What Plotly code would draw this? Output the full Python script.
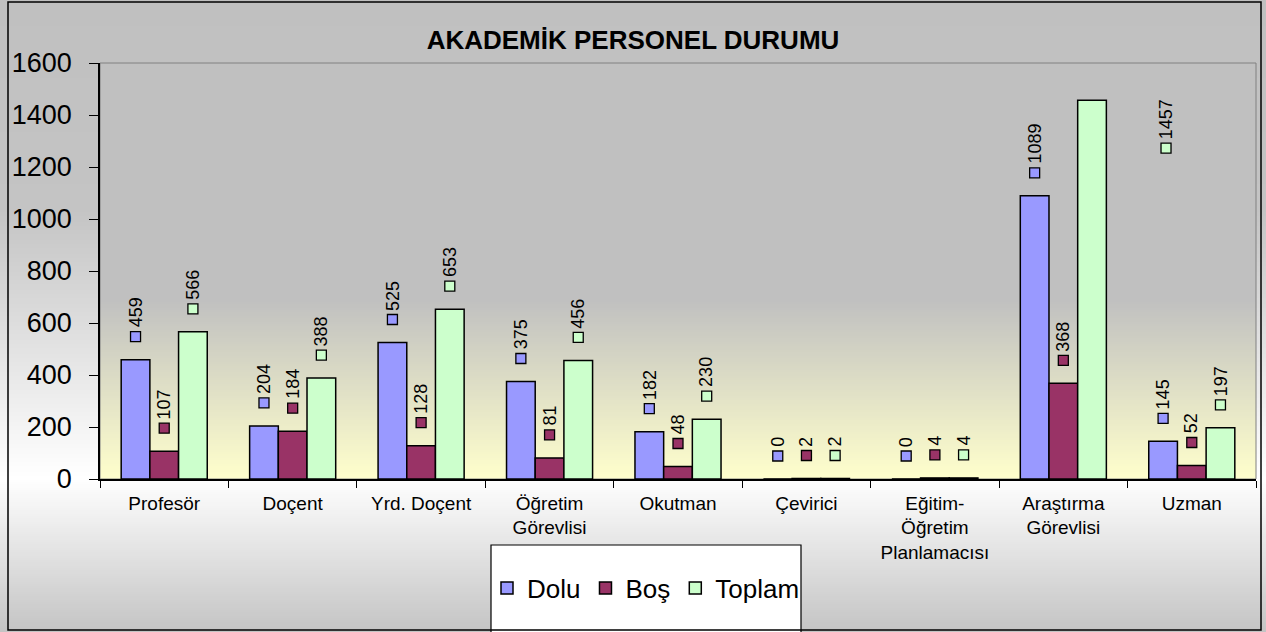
import plotly.graph_objects as go

categories = ["Profesör", "Doçent", "Yrd. Doçent", "Öğretim<br>Görevlisi", "Okutman",
              "Çevirici", "Eğitim-<br>Öğretim<br>Planlamacısı", "Araştırma<br>Görevlisi", "Uzman"]
dolu = [459, 204, 525, 375, 182, 0, 0, 1089, 145]
bos = [107, 184, 128, 81, 48, 2, 4, 368, 52]
toplam = [566, 388, 653, 456, 230, 2, 4, 1457, 197]
series_names = ["Dolu", "Boş", "Toplam"]
series_colors = ["#9999FF", "#993366", "#CCFFCC"]

W, H = 1266, 632
L, R, T, B = 100, 1256, 63, 479
FONT = "Liberation Sans, Arial, sans-serif"
BARGAP = 0.33


def px_x(p):
    return (p - L) / (R - L)


def px_y(p):
    return (B - p) / (B - T)


def gradient(x0, x1, stops, step=2):
    # stops: list of (pixel_y, (r, g, b)); drawn as thin horizontal strips
    out = []
    for (ya, ca), (yb, cb) in zip(stops, stops[1:]):
        if ca == cb:
            out.append(dict(type="rect", xref="paper", yref="paper", layer="below",
                            x0=x0, x1=x1, y0=px_y(ya), y1=px_y(yb),
                            fillcolor="rgb(%d,%d,%d)" % ca, line_width=0))
            continue
        y = ya
        while y < yb:
            y2 = min(y + step, yb)
            t = (y + y2) / 2.0
            f = (t - ya) / (yb - ya)
            c = tuple(round(a + (b - a) * f) for a, b in zip(ca, cb))
            out.append(dict(type="rect", xref="paper", yref="paper", layer="below",
                            x0=x0, x1=x1, y0=px_y(y), y1=px_y(y2 + 0.5),
                            fillcolor="rgb(%d,%d,%d)" % c, line_width=0))
            y = y2
    return out


fig = go.Figure()
values = [dolu, bos, toplam]
for name, col, vals in zip(series_names, series_colors, values):
    fig.add_trace(go.Bar(x=categories, y=vals, name=name,
                         marker=dict(color=col, line=dict(color="black", width=1.5))))

shapes = []
gray = (192, 192, 192)
shapes += gradient(px_x(0), px_x(W), [(0, gray), (210, (196, 196, 196)), (478, (255, 255, 255)),
                                      (632, (196, 196, 196))])
shapes += gradient(0, 1, [(T, gray), (300, gray), (B, (255, 255, 204))])
# plot area frame (top/right gray)
shapes.append(dict(type="rect", xref="paper", yref="paper", layer="below", x0=0, x1=1, y0=0, y1=1,
                   line=dict(color="#808080", width=1), fillcolor="rgba(0,0,0,0)"))
# legend box
shapes.append(dict(type="rect", xref="paper", yref="paper", layer="below",
                   x0=px_x(491), x1=px_x(801), y0=px_y(640), y1=px_y(545),
                   fillcolor="white", line=dict(color="black", width=1.2)))
# outer chart border
shapes.append(dict(type="rect", xref="paper", yref="paper", layer="above",
                   x0=px_x(8), x1=px_x(1261), y0=px_y(630), y1=px_y(2),
                   fillcolor="rgba(0,0,0,0)", line=dict(color="black", width=1.5)))

# data labels: small coloured square plus rotated value
w = (1 - BARGAP) / 3
offsets = [-w, 0, w]
nudges = {(7, 2): (74, -48)}
annotations = []
for k, vals in enumerate(values):
    for i, v in enumerate(vals):
        dx, dy = nudges.get((i, k), (0, 23))
        xa = i + offsets[k]
        shapes.append(dict(type="rect", xref="x", yref="y", layer="above",
                           xsizemode="pixel", ysizemode="pixel", xanchor=xa, yanchor=v,
                           x0=dx - 5, x1=dx + 5, y0=dy - 5, y1=dy + 5,
                           fillcolor=series_colors[k], line=dict(color="black", width=1.3)))
        annotations.append(dict(x=xa, y=v, xref="x", yref="y", text=str(v), textangle=-90,
                                showarrow=False, xanchor="center", yanchor="bottom",
                                xshift=dx, yshift=dy + 7, font=dict(size=18, color="black")))

fig.update_layout(
    width=W, height=H,
    margin=dict(l=L, r=W - R, t=T, b=H - B),
    paper_bgcolor="white", plot_bgcolor="rgba(0,0,0,0)",
    font=dict(family=FONT, color="black"),
    title=dict(text="<b>AKADEMİK PERSONEL DURUMU</b>", x=0.5, xref="container",
               y=1 - 40 / H, yanchor="middle", font=dict(size=26, color="black")),
    barmode="group", bargap=BARGAP, bargroupgap=0,
    showlegend=True,
    legend=dict(orientation="h", x=px_x(646), xanchor="center", y=px_y(588), yanchor="middle",
                bgcolor="rgba(0,0,0,0)", font=dict(size=26), itemwidth=30, traceorder="normal"),
    shapes=shapes, annotations=annotations,
)
fig.update_xaxes(type="category", tickson="boundaries", ticks="outside", ticklen=7,
                 tickcolor="black", showline=True, linecolor="black", linewidth=1.5,
                 showgrid=False, tickfont=dict(size=19), ticklabelstandoff=6,
                 range=[-0.5, len(categories) - 0.5])
fig.update_yaxes(range=[0, 1600], dtick=200, ticks="outside", ticklen=9, tickcolor="black",
                 showline=True, linecolor="black", linewidth=1.5, showgrid=False,
                 zeroline=False, tickfont=dict(size=27), ticklabelstandoff=12)

fig.write_html("out.html", config={"displayModeBar": False},
               post_script="document.body.style.margin='0';document.body.style.overflow='hidden';")
